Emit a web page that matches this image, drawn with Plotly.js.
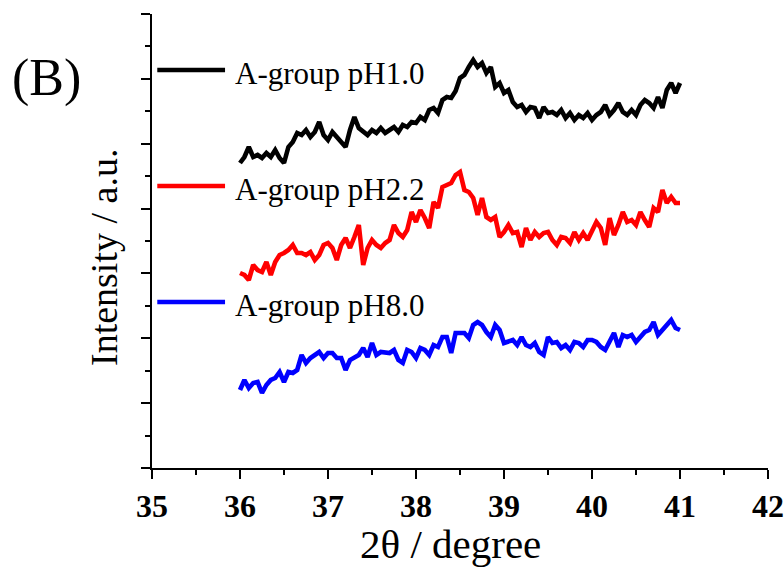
<!DOCTYPE html>
<html>
<head>
<meta charset="utf-8">
<script src="https://cdn.plot.ly/plotly-3.0.1.min.js"></script>
<style>html,body{margin:0;padding:0;background:#fff;}#chart{width:784px;height:569px;}</style>
</head>
<body>
<div id="chart"></div>
<script>
// 2-theta grid: 36.00 to 41.00 in 0.05 steps (101 points)
const twoTheta = Array.from({length: 101}, (_, i) => +(36 + i * 0.05).toFixed(2));

// Intensity (a.u., arbitrary offset units)
const pH10 = [305, 311, 321, 311, 313, 310, 315, 311, 318, 310, 305, 321, 326, 335, 333, 338, 331, 336, 346, 333,
  328, 336, 331, 326, 321, 338, 351, 340, 336, 333, 338, 335, 340, 335, 338, 341, 336, 343, 341, 346,
  345, 351, 348, 358, 360, 355, 368, 371, 370, 377, 390,
  393, 401, 408, 401, 405, 395, 401, 381, 385, 375, 378, 366, 361, 363, 356, 361, 360, 350, 361, 355,
  356, 353, 358, 350, 355, 348, 353, 350, 355, 348, 353, 356, 363, 353, 358, 365, 356, 353, 358, 353,
  363, 368, 365, 360, 371, 360, 378, 385, 375, 385];

const pH22 = [195, 193, 188, 203, 198, 196, 206, 193, 206, 213, 215, 218, 223, 215, 215, 213, 216, 208, 213, 223,
  225, 220, 208, 223, 230, 220, 231, 243, 203, 220, 228, 223, 220, 225, 228, 243, 235, 231, 238, 256,
  246, 258, 250, 240, 266, 260, 281, 283, 285, 293, 296,
  278, 276, 270, 253, 270, 251, 248, 251, 231, 236, 243, 235, 236, 221, 240, 228, 236, 231, 235, 236,
  228, 223, 231, 230, 225, 236, 228, 235, 228, 238, 246, 240, 223, 250, 233, 243, 256, 246, 248, 243,
  256, 248, 241, 260, 256, 278, 265, 271, 265, 265];

const pH80 = [78, 88, 80, 85, 86, 75, 83, 88, 90, 96, 86, 96, 95, 98, 113, 105, 110, 113, 116, 110,
  115, 115, 110, 110, 98, 108, 111, 113, 120, 111, 125, 113, 116, 116, 115, 118, 108, 105, 118, 116,
  110, 120, 118, 113, 123, 121, 131, 131, 115, 135, 135,
  135, 130, 143, 146, 143, 136, 131, 143, 138, 125, 126, 128, 123, 131, 123, 121, 125, 116, 113, 131,
  125, 126, 120, 123, 118, 126, 125, 121, 128, 128, 126, 121, 118, 126, 135, 121, 133, 131, 133, 126,
  131, 136, 138, 146, 133, 138, 143, 148, 140, 138];

const seriesNames = ['A-group pH1.0', 'A-group pH2.2', 'A-group pH8.0'];
const seriesColors = ['#000000', '#ff0000', '#0000ff'];
const seriesData = [pH10, pH22, pH80];
const legendY = [398, 282, 166];
const xTickVals = [35, 36, 37, 38, 39, 40, 41, 42];

const serif = 'Liberation Serif, Times New Roman, serif';
const yTop = 454;

const traces = seriesData.map((d, i) => ({
  x: twoTheta, y: d, type: 'scatter', mode: 'lines',
  name: seriesNames[i], line: {color: seriesColors[i], width: 4.6}, showlegend: false
}));

const shapes = legendY.map((y, i) => ({
  type: 'line', xref: 'x', yref: 'y', x0: 35.06, x1: 35.83, y0: y, y1: y,
  line: {color: seriesColors[i], width: 4.5}
}));

const annotations = legendY.map((y, i) => ({
  xref: 'x', yref: 'y', x: 35.92, y: y - 3, xanchor: 'left', yanchor: 'middle',
  text: seriesNames[i], showarrow: false, font: {family: serif, size: 31, color: '#000'}
}));
annotations.push({xref: 'paper', yref: 'paper', x: 0.4838, y: -0.168, xanchor: 'center', yanchor: 'middle',
  text: '2θ / degree', showarrow: false, font: {family: serif, size: 41, color: '#000'}});
annotations.push({xref: 'paper', yref: 'paper', x: -0.0779, y: 0.4626, xanchor: 'center', yanchor: 'middle',
  text: 'Intensity / a.u.', textangle: -90, showarrow: false, font: {family: serif, size: 38, color: '#000'}});
annotations.push({xref: 'paper', yref: 'paper', x: -0.1705, y: 0.858, xanchor: 'center', yanchor: 'middle',
  text: '(B)', showarrow: false, font: {family: serif, size: 52, color: '#000'}});

const layout = {
  width: 784, height: 569, autosize: false,
  margin: {l: 152, r: 16, t: 14, b: 101, pad: 0},
  paper_bgcolor: '#fff', plot_bgcolor: '#fff',
  showlegend: false,
  xaxis: {
    range: [35, 42], tickvals: xTickVals, ticks: 'outside', ticklen: 9, tickwidth: 2, tickcolor: '#000',
    showline: true, linewidth: 2, linecolor: '#000', showgrid: false, zeroline: false,
    tickfont: {family: serif, size: 32, color: '#000', weight: 'bold'},
    minor: {dtick: 0.5, tick0: 35, ticks: 'outside', ticklen: 5, tickwidth: 2, tickcolor: '#000', showgrid: false}
  },
  yaxis: {
    range: [0, yTop], tick0: 0, dtick: yTop / 7, ticks: 'outside', ticklen: 9, tickwidth: 2, tickcolor: '#000',
    showline: true, linewidth: 2, linecolor: '#000', showgrid: false, zeroline: false, showticklabels: false,
    minor: {tick0: 0, dtick: yTop / 14, ticks: 'outside', ticklen: 5, tickwidth: 2, tickcolor: '#000', showgrid: false}
  },
  shapes: shapes,
  annotations: annotations
};

Plotly.newPlot('chart', traces, layout, {displayModeBar: false, staticPlot: true});
</script>
</body>
</html>
